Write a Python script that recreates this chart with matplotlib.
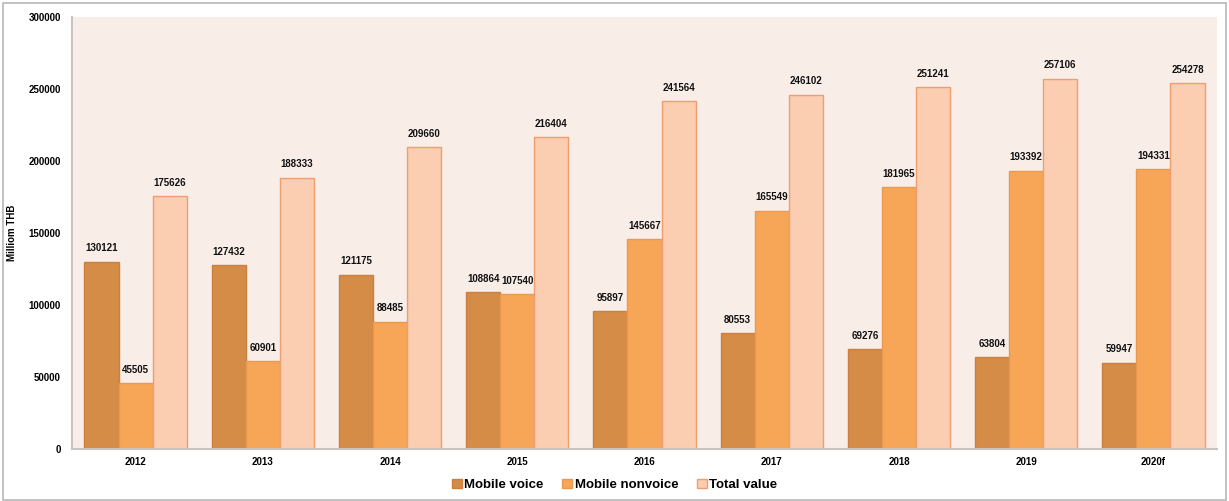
import matplotlib
matplotlib.use("Agg")
import matplotlib.pyplot as plt
import numpy as np
from matplotlib.patches import Rectangle

years = ["2012", "2013", "2014", "2015", "2016", "2017", "2018", "2019", "2020f"]
mobile_voice = [130121, 127432, 121175, 108864, 95897, 80553, 69276, 63804, 59947]
mobile_nonvoice = [45505, 60901, 88485, 107540, 145667, 165549, 181965, 193392, 194331]
total_value = [175626, 188333, 209660, 216404, 241564, 246102, 251241, 257106, 254278]
series_names = ["Mobile voice", "Mobile nonvoice", "Total value"]

plt.rcParams['font.family'] = ['Liberation Sans', 'DejaVu Sans']

fig = plt.figure(figsize=(12.29, 5.01), dpi=100)
ax = fig.add_axes([72/1229, 1 - 449/501, (1217-72)/1229, (449-17)/501])
ax.set_facecolor('#F9EDE8')

colors = ['#D58C46', '#F7A657', '#FBCDB1']
edges = ['#C98042', '#E99A50', '#EE9E70']
x = np.arange(len(years))
w = 0.268
for i, (vals, c, ec, name) in enumerate(zip([mobile_voice, mobile_nonvoice, total_value], colors, edges, series_names)):
    pos = x + (i - 1) * w
    ax.bar(pos, vals, width=w, color=c, edgecolor=ec, linewidth=1.0, label=name)
    for p, v in zip(pos, vals):
        ax.annotate(str(v), (p, v), xytext=(0, 6), textcoords='offset points',
                    ha='center', va='bottom', fontsize=7, fontweight='bold', color='#111111')

ax.set_xlim(-0.5, len(years) - 0.5)
ax.set_ylim(0, 300000)
ax.set_yticks(np.arange(0, 300001, 50000))
ax.set_yticklabels([str(v) for v in range(0, 300001, 50000)], fontsize=7, fontweight='bold')
ax.set_xticks(x)
ax.set_xticklabels(years, fontsize=7, fontweight='bold')
ax.tick_params(axis='y', length=0, pad=8)
ax.tick_params(axis='x', length=0, pad=6)
for s in ['top', 'right']:
    ax.spines[s].set_visible(False)
for s in ['left', 'bottom']:
    ax.spines[s].set_color('#C8C4C2')
    ax.spines[s].set_linewidth(1.5)
ax.set_ylabel('Milliom THB', fontsize=7, fontweight='bold', labelpad=8)

fig.legend(loc='center', bbox_to_anchor=(0.5, 1 - 485/501), ncol=3, frameon=False,
           handlelength=0.75, handleheight=0.75, handletextpad=0.2, columnspacing=1.4,
           prop={'weight': 'bold', 'size': 9.5})

fig.add_artist(Rectangle((3/1229, 0.002), 1223/1229, 1 - 3/501 - 0.002, transform=fig.transFigure,
                         fill=False, edgecolor='#B8B8B8', linewidth=1.2))

fig.savefig('out.png', dpi=100)
